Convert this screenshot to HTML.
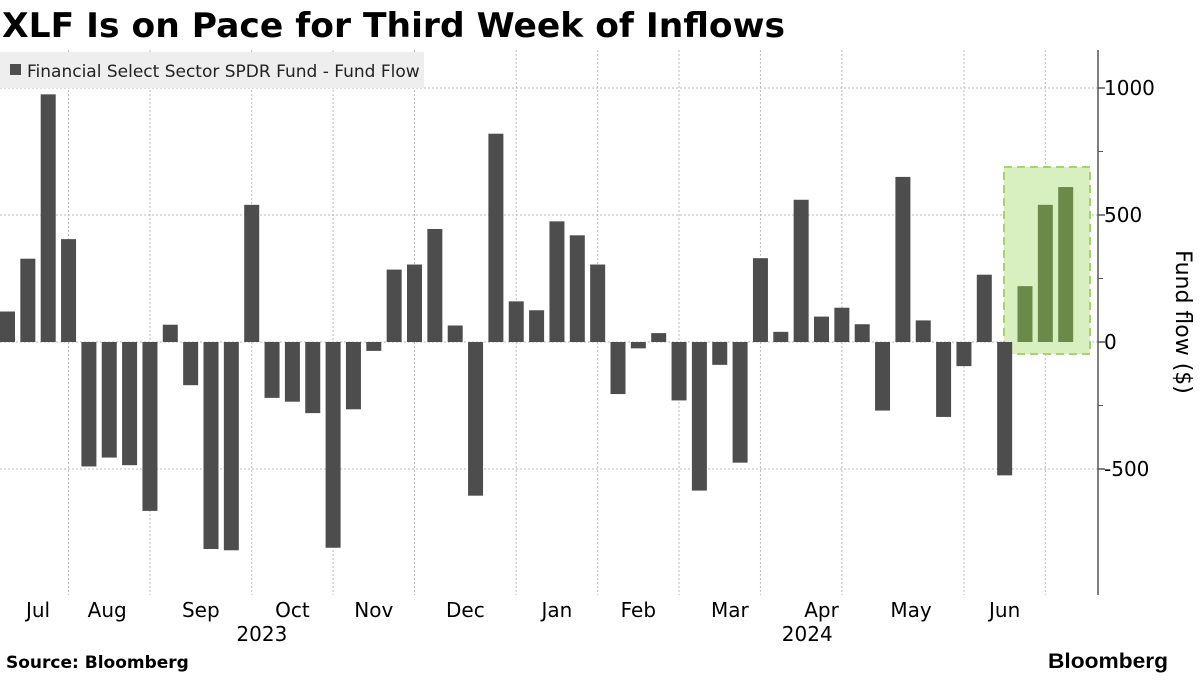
<!DOCTYPE html>
<html><head><meta charset="utf-8"><style>
body{margin:0;width:1200px;height:675px;background:#fff;overflow:hidden;font-family:"Liberation Sans","DejaVu Sans",sans-serif}
</style></head><body>
<svg width="1200" height="675" xmlns="http://www.w3.org/2000/svg">
<text x="2" y="37" font-size="34" font-weight="bold" fill="#000" font-family="DejaVu Sans, sans-serif" textLength="783" lengthAdjust="spacingAndGlyphs">XLF Is on Pace for Third Week of Inflows</text>
<g id="grid"></g>
<rect x="1004" y="167" width="86" height="187" fill="#d8f0bf" stroke="#a5d46a" stroke-width="2" stroke-dasharray="8,5"/>
<g id="bars"></g>
<rect x="0" y="52" width="424" height="36" fill="#eeeeee"/>
<rect x="10" y="64" width="11" height="11" fill="#4d4d4d"/>
<text x="27" y="77" font-size="17" fill="#222" font-family="DejaVu Sans, sans-serif">Financial Select Sector SPDR Fund - Fund Flow</text>
<line x1="1098" y1="50" x2="1098" y2="595" stroke="#555" stroke-width="1.5"/>
<g id="yaxis"></g>
<g id="xaxis"></g>
<text transform="translate(1176,322) rotate(90)" text-anchor="middle" font-size="22" fill="#000" font-family="DejaVu Sans, sans-serif">Fund flow ($)</text>
<text x="6" y="668" font-size="17" font-weight="bold" fill="#000" font-family="DejaVu Sans, sans-serif">Source: Bloomberg</text>
<text x="1048" y="668" font-size="21" font-weight="bold" fill="#000" textLength="120" lengthAdjust="spacingAndGlyphs">Bloomberg</text>
</svg>
<script>
const values=[120,328,975,405,-490,-455,-485,-665,68,-170,-815,-820,540,-220,-235,-280,-810,-265,-35,285,305,445,65,-605,820,160,125,475,420,305,-205,-25,35,-230,-585,-90,-475,330,40,560,100,135,70,-270,650,85,-295,-95,265,-525,220,540,610];
const highlighted=[50,51,52];
const gridIdx=[3,7,12,16,20,25,29,33,37,41,47,51];
const monthLabels=["Jul","Aug","Sep","Oct","Nov","Dec","Jan","Feb","Mar","Apr","May","Jun"];
const monthPos=[1.5,4.9,9.5,14,18,22.5,27,31,35.5,40,44.4,49];
const yearLabels=["2023","2024"];
const yearPos=[12.5,39.3];
const yTicks=[-500,0,500,1000];
const NS="http://www.w3.org/2000/svg";
const step=20.35,bw=15;
const xC=i=>i*step+7.5;
const y=v=>342-v*0.254;
function mk(t,a,p){const e=document.createElementNS(NS,t);for(const k in a)e.setAttribute(k,a[k]);document.getElementById(p).appendChild(e);return e;}
gridIdx.forEach((g,i)=>{
 const l=mk('line',{x1:xC(g),x2:xC(g),y1:50,y2:595,stroke:'#bbb','stroke-dasharray':'2,2'},'grid');
 
 
});
yTicks.forEach(t=>{
 if(t!==0){const l=mk('line',{x1:0,x2:1098,y1:y(t),y2:y(t),stroke:'#bbb','stroke-dasharray':'2,2'},'grid');
 
 }
 const k=mk('line',{x1:1098,x2:1105,y1:y(t),y2:y(t),stroke:'#555','stroke-width':1.5},'yaxis');
 
 
 const tx=mk('text',{x:1104,y:y(t)+7,'font-size':20,fill:'#000','font-family':'DejaVu Sans, sans-serif'},'yaxis');
 tx.textContent=t;
 
 
});
[-250,250,750].forEach(t=>{const k=mk('line',{x1:1098,x2:1103,y1:y(t),y2:y(t),stroke:'#555'},'yaxis');
 
 });
const zl=mk('line',{x1:0,x2:1098,y1:y(0),y2:y(0),stroke:'#bbb','stroke-dasharray':'2,2'},'grid');


values.forEach((v,i)=>{
 const r=mk('rect',{x:xC(i)-bw/2,width:bw,y:Math.min(y(v),y(0)),height:Math.abs(y(v)-y(0)),fill:highlighted.includes(i)?'#6b8a4a':'#4d4d4d'},'bars');
 
 
});
monthLabels.forEach((m,i)=>{
 const t=mk('text',{x:xC(monthPos[i]),y:617,'text-anchor':'middle','font-size':20,fill:'#000','font-family':'DejaVu Sans, sans-serif'},'xaxis');
 t.textContent=m;
 
 
});
yearLabels.forEach((m,i)=>{
 const t=mk('text',{x:xC(yearPos[i]),y:641,'text-anchor':'middle','font-size':20,fill:'#000','font-family':'DejaVu Sans, sans-serif'},'xaxis');
 t.textContent=m;
 
 
});
</script>
</body></html>
